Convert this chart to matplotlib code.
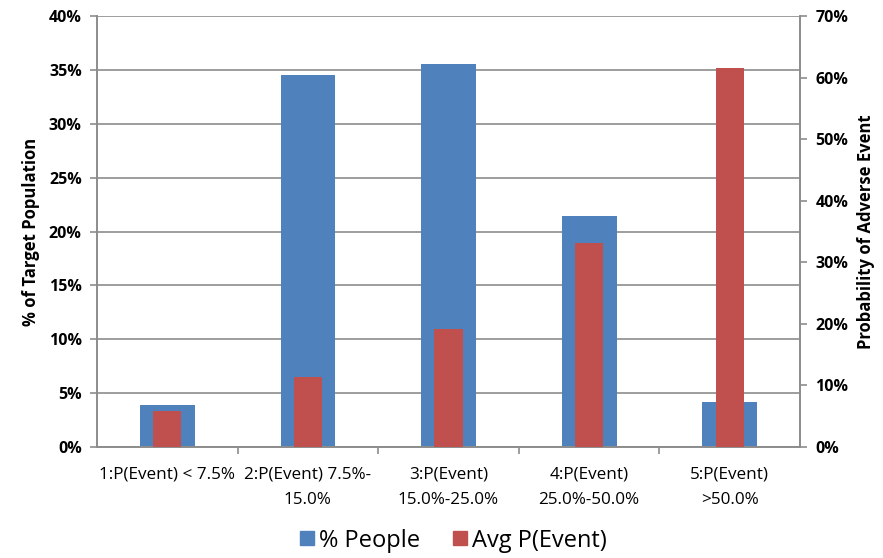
import matplotlib
matplotlib.use("Agg")
import matplotlib.pyplot as plt
from matplotlib.ticker import PercentFormatter, MultipleLocator
from matplotlib.patches import Patch

categories = ["1:P(Event) < 7.5%", "2:P(Event) 7.5%-\n15.0%", "3:P(Event)\n15.0%-25.0%",
              "4:P(Event)\n25.0%-50.0%", "5:P(Event)\n>50.0%"]
pct_people = [3.9, 34.5, 35.6, 21.4, 4.2]
avg_p_event = [5.9, 11.4, 19.1, 33.2, 61.5]

blue = "#4F81BD"
red = "#C0504D"
grid_c = "#8C8C8C"

plt.rcParams['font.family'] = ['Open Sans', 'DejaVu Sans']

fig = plt.figure(figsize=(8.83, 5.58), dpi=100)
ax = fig.add_axes([0.1099, 0.199, 0.7961, 0.772])
x = list(range(len(categories)))
ax.bar(x, pct_people, width=0.39, color=blue, zorder=2)
ax.set_ylim(0, 40)
ax.set_xlim(-0.5, len(categories) - 0.5)
ax.yaxis.set_major_locator(MultipleLocator(5))
ax.yaxis.set_major_formatter(PercentFormatter(decimals=0))
ax.grid(axis='y', color=grid_c, linewidth=1.2, zorder=0)
ax.set_axisbelow(True)

ax2 = ax.twinx()
ax2.bar(x, avg_p_event, width=0.2, color=red, zorder=3)
ax2.set_ylim(0, 70)
ax2.yaxis.set_major_locator(MultipleLocator(10))
ax2.yaxis.set_major_formatter(PercentFormatter(decimals=0))

for a in (ax, ax2):
    a.spines['top'].set_visible(False)
    for s in ('left', 'right', 'bottom'):
        a.spines[s].set_color(grid_c)
        a.spines[s].set_linewidth(1.2)
    a.tick_params(axis='y', length=5, color=grid_c, width=1.2, labelsize=11.5, pad=6)
    for lab in a.get_yticklabels():
        lab.set_fontweight('bold')

ax.set_xticks([i + 0.5 for i in range(len(categories) - 1)], minor=False)
ax.set_xticklabels([])
ax.tick_params(axis='x', length=5, color=grid_c, width=1.2)
ax.set_xticks(x, minor=True)
ax.set_xticklabels(categories, minor=True, fontsize=12.3, linespacing=1.8)
ax.tick_params(axis='x', which='minor', length=0, pad=14)
ax2.tick_params(axis='x', which='both', length=0)

ax.set_ylabel("% of Target Population", fontsize=12, fontweight='bold', labelpad=6)
ax2.set_ylabel("Probability of Adverse Event", fontsize=12, fontweight='bold', labelpad=6)

handles = [Patch(color=blue, label="% People"), Patch(color=red, label="Avg P(Event)")]
fig.legend(handles=handles, loc='center', bbox_to_anchor=(0.513, 0.031), ncol=2, frameon=False,
           fontsize=17, handlelength=0.6, handleheight=0.55, handletextpad=0.2, columnspacing=1.4)

fig.savefig("out.png", dpi=100)
